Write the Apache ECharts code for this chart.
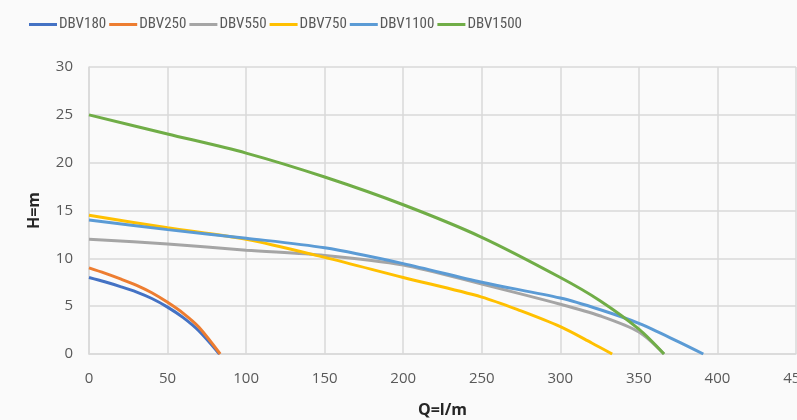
<!DOCTYPE html>
<html><head><meta charset="utf-8">
<script src="https://cdn.jsdelivr.net/npm/echarts@6/dist/echarts.min.js"></script>
<style>html,body{margin:0;padding:0;background:#fafafa}#c{width:797px;height:420px}</style>
</head><body><div id="c"></div>
<script>
const seriesNames = ["DBV180","DBV250","DBV550","DBV750","DBV1100","DBV1500"];
const seriesColors = ["#4472C4","#ED7D31","#A5A5A5","#FFC000","#5B9BD5","#70AD47"];
const qDBV180 = [0,10,20,30,40,50,60,70,83];
const hDBV180 = [8.0,7.55,7.05,6.5,5.8,4.9,3.8,2.4,0];
const qDBV250 = [0,10,20,30,40,50,60,70,83.5];
const hDBV250 = [9.0,8.45,7.85,7.2,6.4,5.4,4.25,2.8,0];
const qDBV550 = [0,50,100,150,200,250,300,325,350,366];
const hDBV550 = [12.0,11.5,10.85,10.3,9.3,7.3,5.2,4.0,2.3,0];
const qDBV750 = [0,50,100,150,200,250,275,300,320,333];
const hDBV750 = [14.5,13.2,12.0,10.1,8.0,5.95,4.5,2.85,1.15,0];
const qDBV1100 = [0,50,100,150,200,250,300,325,350,375,391];
const hDBV1100 = [14.0,13.0,12.1,11.1,9.45,7.5,5.85,4.65,3.2,1.3,0];
const qDBV1500 = [0,50,100,150,200,250,300,325,350,366];
const hDBV1500 = [25.0,23.0,21.0,18.5,15.6,12.2,8.0,5.6,2.6,0];
const xTicks = [0,50,100,150,200,250,300,350,400,450];
const yTicks = [0,5,10,15,20,25,30];

const qs = [qDBV180,qDBV250,qDBV550,qDBV750,qDBV1100,qDBV1500];
const hs = [hDBV180,hDBV250,hDBV550,hDBV750,hDBV1100,hDBV1500];

const chart = echarts.init(document.getElementById('c'));
const gridColor = '#d9d9d9';
chart.setOption({
  backgroundColor: '#fafafa',
  animation: false,
  color: seriesColors,
  legend: {
    left: 29, top: 17, padding: 0, itemWidth: 28, itemHeight: 3, itemGap: 3,
    icon: 'rect',
    textStyle: {fontFamily: '"Liberation Sans Narrow", "Roboto Condensed", Roboto', fontSize: 15, color: '#595959', padding:[0,0,0,-3]},
    data: seriesNames
  },
  grid: {left: 89, right: 1, top: 67, bottom: 66, containLabel: false, outerBoundsMode: 'none'},
  xAxis: {
    type: 'value', min: xTicks[0], max: xTicks[xTicks.length-1], interval: 50,
    name: 'Q=l/m', nameLocation: 'middle', nameGap: 48,
    nameTextStyle: {fontFamily: 'Open Sans', fontWeight: 'bold', fontSize: 16, color: '#262626'},
    axisLine: {show: true, lineStyle: {color: gridColor, width: 1.5}},
    axisTick: {show: false},
    axisLabel: {fontFamily: 'Open Sans', fontSize: 15, color: '#595959', margin: 17},
    splitLine: {show: true, lineStyle: {color: gridColor, width: 1.5}}
  },
  yAxis: {
    type: 'value', min: yTicks[0], max: yTicks[yTicks.length-1], interval: 5,
    name: 'H=m', nameLocation: 'middle', nameGap: 47, nameRotate: 90,
    nameTextStyle: {fontFamily: 'Open Sans', fontWeight: 'bold', fontSize: 16, color: '#262626'},
    axisLine: {show: true, lineStyle: {color: gridColor, width: 1.5}},
    axisTick: {show: false},
    axisLabel: {fontFamily: 'Open Sans', fontSize: 15, color: '#595959', margin: 16},
    splitLine: {show: true, lineStyle: {color: gridColor, width: 1.5}}
  },
  series: seriesNames.map((n, i) => ({
    name: n, type: 'line', smooth: 0.3, showSymbol: false, symbol: 'none',
    lineStyle: {width: 3, color: seriesColors[i]},
    data: qs[i].map((q, j) => [q, hs[i][j]])
  }))
});
</script></body></html>
